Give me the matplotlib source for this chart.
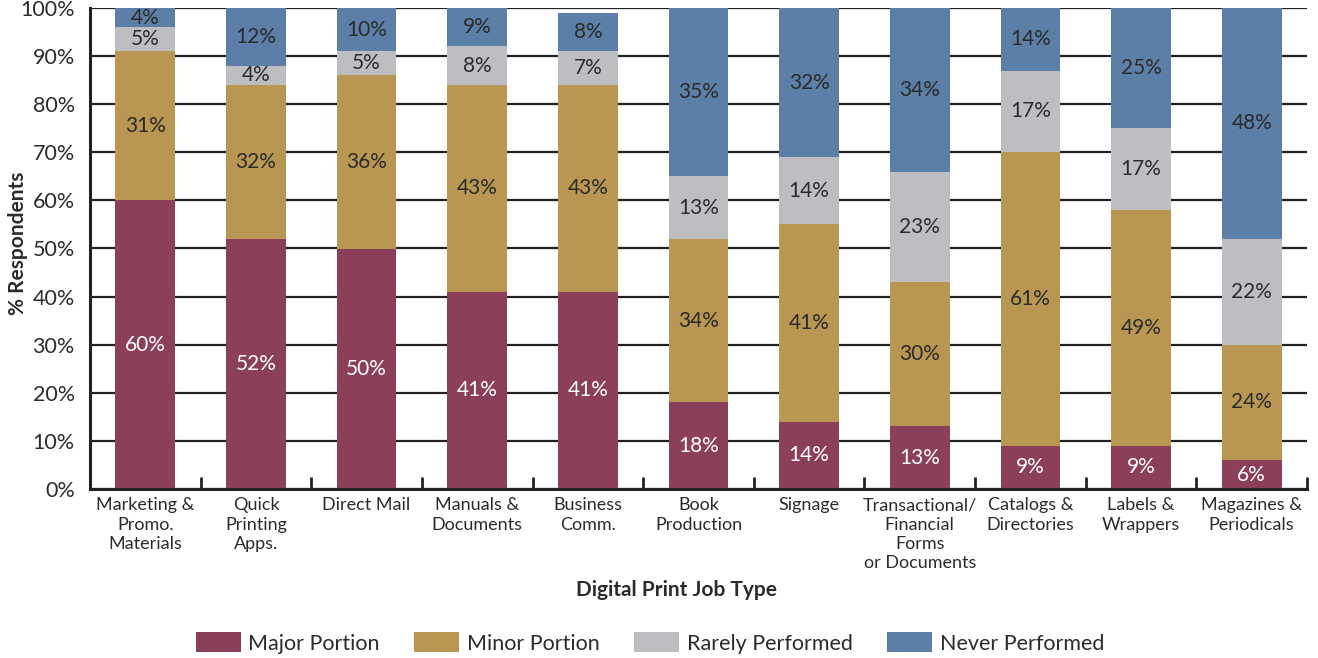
import numpy as np
import matplotlib
matplotlib.use("Agg")
import matplotlib.pyplot as plt
from matplotlib.ticker import MultipleLocator, FixedLocator

plt.rcParams['font.family'] = ['Lato', 'DejaVu Sans']

# data
categories = [
    'Marketing &\nPromo.\nMaterials', 'Quick\nPrinting\nApps.', 'Direct Mail',
    'Manuals &\nDocuments', 'Business\nComm.', 'Book\nProduction', 'Signage',
    'Transactional/\nFinancial\nForms\nor Documents', 'Catalogs &\nDirectories',
    'Labels &\nWrappers', 'Magazines &\nPeriodicals',
]
major = [60, 52, 50, 41, 41, 18, 14, 13, 9, 9, 6]
minor = [31, 32, 36, 43, 43, 34, 41, 30, 61, 49, 24]
rarely = [5, 4, 5, 8, 7, 13, 14, 23, 17, 17, 22]
never = [4, 12, 10, 9, 8, 35, 32, 34, 14, 25, 48]

series = [
    ('Major Portion', major, '#8c3f5a', 'white'),
    ('Minor Portion', minor, '#b99651', '#2b2b2b'),
    ('Rarely Performed', rarely, '#bdbec2', '#2b2b2b'),
    ('Never Performed', never, '#5b7fa6', '#2b2b2b'),
]

fig = plt.figure(figsize=(13.18, 6.58), dpi=100)
ax = fig.add_axes([90/1318, 1 - 489/658, 1217/1318, 481/658])

x = np.arange(len(categories))
bottom = np.zeros(len(categories))
for name, vals, color, tcolor in series:
    vals = np.array(vals, dtype=float)
    ax.bar(x, vals, width=0.54, bottom=bottom, color=color, label=name, zorder=2)
    for xi, b, v in zip(x, bottom, vals):
        yc = min(b + v / 2, (b + 100) / 2)
        ax.text(xi, yc, f'{v:.0f}%', ha='center', va='center',
                fontsize=15, color=tcolor, zorder=3)
    bottom += vals

ax.set_xlim(-0.5, len(categories) - 0.5)
ax.set_ylim(0, 100)

ax.yaxis.set_major_locator(MultipleLocator(10))
ax.set_yticklabels([f'{t:.0f}%' for t in ax.get_yticks()])
ax.yaxis.grid(True, color='#222222', linewidth=1.6, zorder=0)
ax.set_axisbelow(True)
ax.tick_params(axis='y', length=0, labelsize=15.5, colors='#2b2b2b', pad=11)

# category labels centred under each bar, boundary ticks pointing up
ax.set_xticks(x)
ax.set_xticklabels(categories, fontsize=13, color='#2b2b2b', linespacing=1.25)
ax.tick_params(axis='x', which='major', length=0, pad=6)
ax.xaxis.set_minor_locator(FixedLocator(x + 0.5))
ax.tick_params(axis='x', which='minor', direction='in', length=9, width=2,
               color='#222222')

for side in ['top', 'right']:
    ax.spines[side].set_visible(False)
for side in ['left', 'bottom']:
    ax.spines[side].set_linewidth(2.2)
    ax.spines[side].set_color('#222222')

fig.text(18/1318, 1 - 243/658, '% Respondents', rotation=90, ha='center',
         va='center', fontsize=15, fontweight='bold', color='#2b2b2b')
fig.text(676/1318, 1 - 590/658, 'Digital Print Job Type', ha='center',
         va='center', fontsize=15, fontweight='bold', color='#2b2b2b')

fig.legend(loc='center', bbox_to_anchor=(650/1318, 1 - 643/658), ncol=4,
           frameon=False, fontsize=15.5, handlelength=2.1, handleheight=1.05,
           handletextpad=0.35, columnspacing=1.6, labelcolor='#2b2b2b')

fig.savefig('out.png', dpi=100)
